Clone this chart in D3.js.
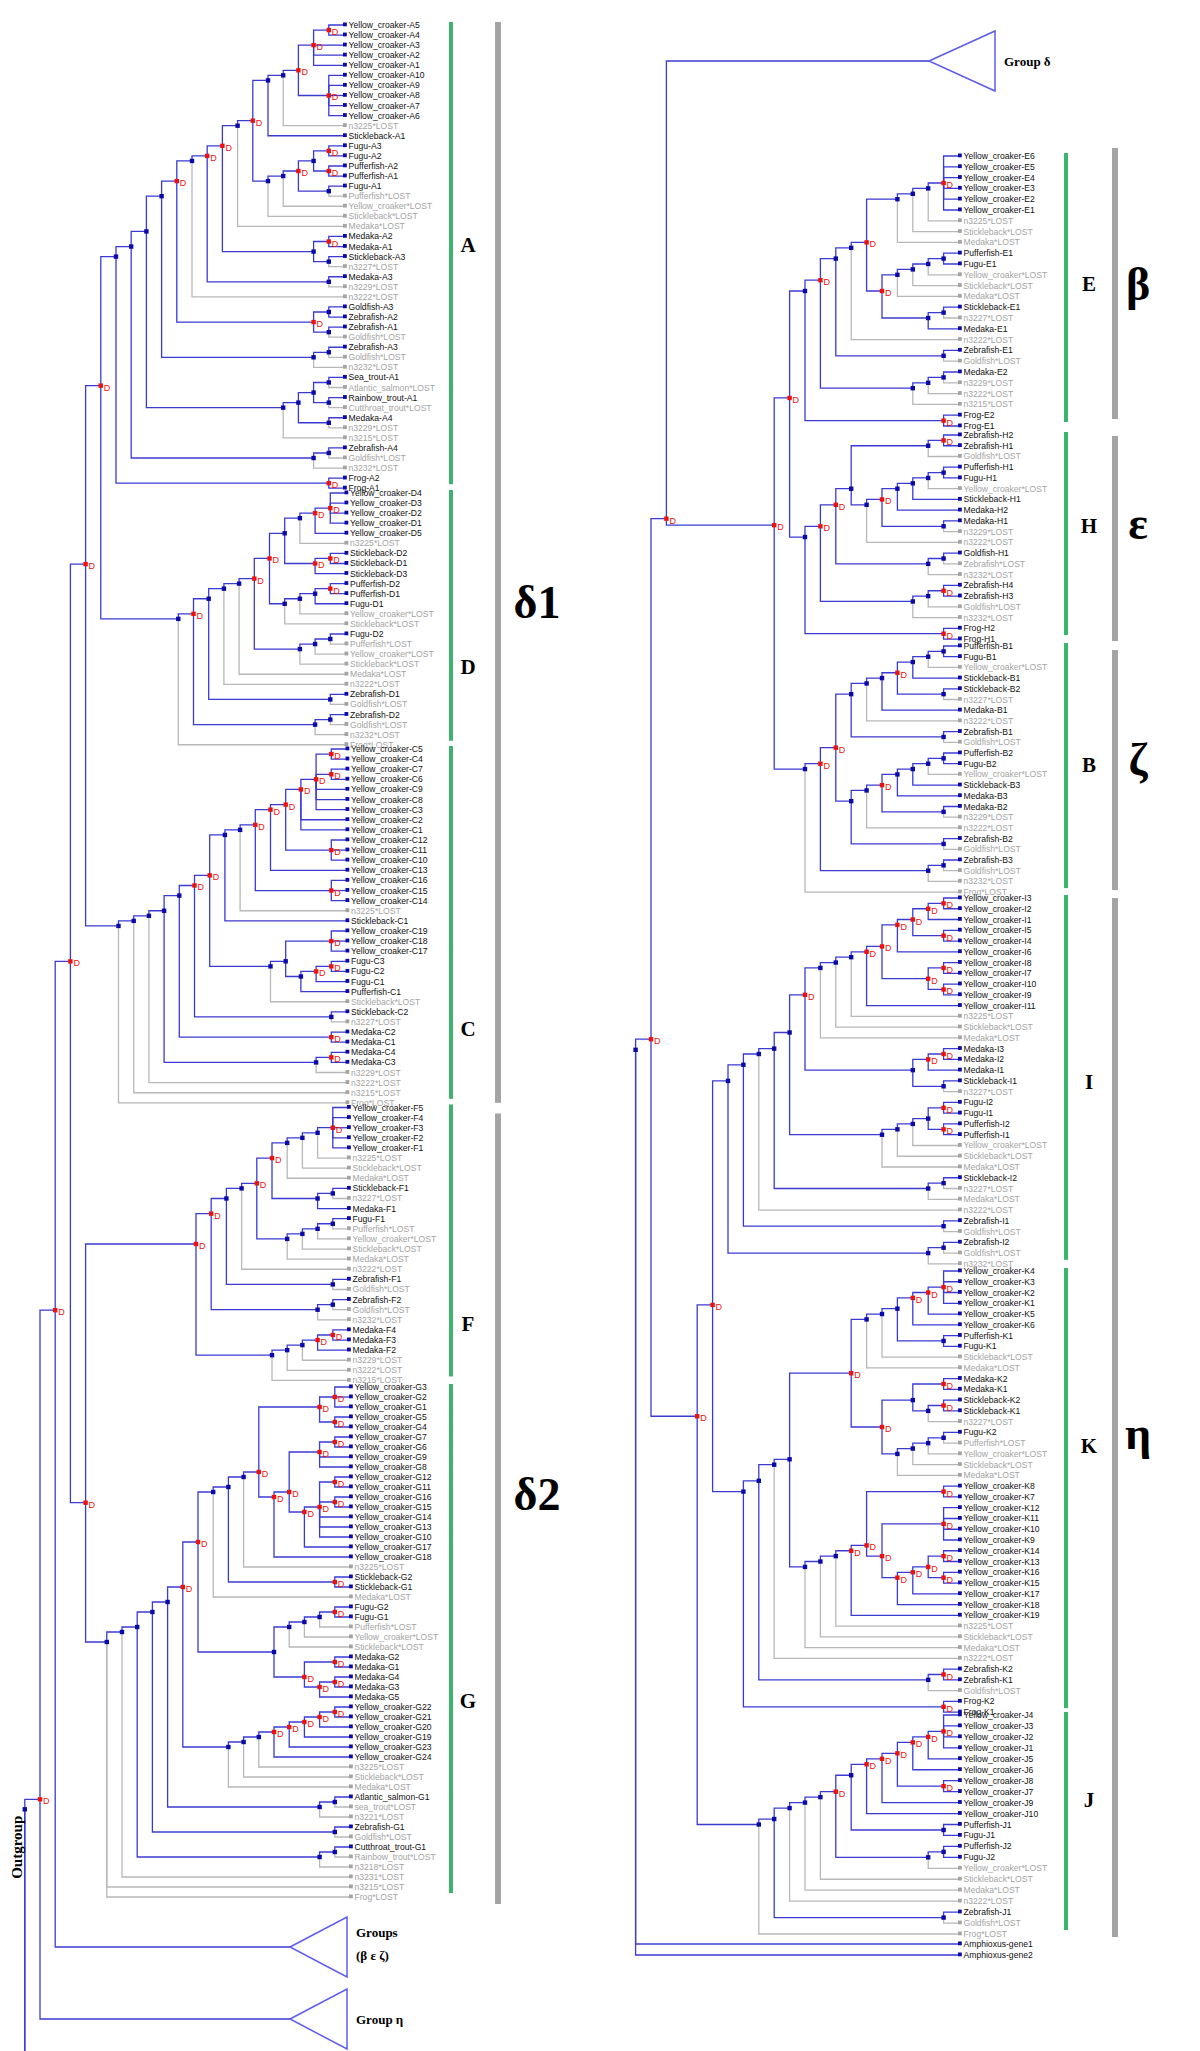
<!DOCTYPE html>
<html>
<head>
<meta charset="utf-8">
<script src="https://cdn.jsdelivr.net/npm/d3@7"></script>
<style>
body { margin: 0; background: #fff; }
</style>
</head>
<body>
<script>
// ---------- data: gene tree pieces in Newick ("D" = duplication node, "#id" = named group) ----------

// group delta, clade A
var A_yc = "(((((Yellow_croaker-A5,Yellow_croaker-A4)D,Yellow_croaker-A3,Yellow_croaker-A2,Yellow_croaker-A1)D,(Yellow_croaker-A10,Yellow_croaker-A9,Yellow_croaker-A8,Yellow_croaker-A7,Yellow_croaker-A6)D)D,n3225*LOST),Stickleback-A1)";
var A_fu = "(((((Fugu-A3,Fugu-A2)D,(Pufferfish-A2,Pufferfish-A1)D),(Fugu-A1,Pufferfish*LOST))D,Yellow_croaker*LOST),Stickleback*LOST)";
var A_up = "(((((" + A_yc + "," + A_fu + ")D,Medaka*LOST),((Medaka-A2,Medaka-A1)D,(Stickleback-A3,n3227*LOST)))D,(Medaka-A3,n3229*LOST))D,n3222*LOST)";
var A_gz = "((Goldfish-A3,Zebrafish-A2),(Zebrafish-A1,Goldfish*LOST))D";
var A_z3 = "((Zebrafish-A3,Goldfish*LOST),n3232*LOST)";
var A_sal = "((((Sea_trout-A1,Atlantic_salmon*LOST),(Rainbow_trout-A1,Cutthroat_trout*LOST)),(Medaka-A4,n3229*LOST)),n3215*LOST)";
var A_z4 = "((Zebrafish-A4,Goldfish*LOST),n3232*LOST)";
var A_fr = "(Frog-A2,Frog-A1)D";
var cladeA = "(((((" + A_up + "," + A_gz + ")D," + A_z3 + ")," + A_sal + ")," + A_z4 + ")," + A_fr + ")";

// clade D
var D_yc = "((((Yellow_croaker-D4,Yellow_croaker-D3,Yellow_croaker-D2,Yellow_croaker-D1)D,Yellow_croaker-D5)D,n3225*LOST),((Stickleback-D2,Stickleback-D1)D,Stickleback-D3)D)";
var D_pu = "((((Pufferfish-D2,Pufferfish-D1)D,Fugu-D1),Yellow_croaker*LOST),Stickleback*LOST)";
var D_fu = "(((Fugu-D2,Pufferfish*LOST),Yellow_croaker*LOST),Stickleback*LOST)";
var cladeD = "(((((((" + D_yc + "," + D_pu + ")D," + D_fu + ")D,Medaka*LOST),n3222*LOST),(Zebrafish-D1,Goldfish*LOST)),((Zebrafish-D2,Goldfish*LOST),n3232*LOST))D,Frog*LOST)";

// clade C
var C_n1 = "((Yellow_croaker-C5,Yellow_croaker-C4)D,(Yellow_croaker-C7,Yellow_croaker-C6)D,Yellow_croaker-C9,Yellow_croaker-C8,Yellow_croaker-C3)D";
var C_yc = "((((((" + C_n1 + ",Yellow_croaker-C2,Yellow_croaker-C1)D,(Yellow_croaker-C12,Yellow_croaker-C11,Yellow_croaker-C10)D)D,Yellow_croaker-C13)D,(Yellow_croaker-C16,Yellow_croaker-C15,Yellow_croaker-C14)D)D,n3225*LOST),Stickleback-C1)";
var C_fu = "(((Yellow_croaker-C19,Yellow_croaker-C18,Yellow_croaker-C17)D,(((Fugu-C3,Fugu-C2)D,Fugu-C1)D,Pufferfish-C1)),Stickleback*LOST)";
var cladeC = "(((((((" + C_yc + "," + C_fu + ")D,(Stickleback-C2,n3227*LOST))D,(Medaka-C2,Medaka-C1)D),((Medaka-C4,Medaka-C3)D,n3229*LOST)),n3222*LOST),n3215*LOST),Frog*LOST)";

// clade F
var F_yc = "((((Yellow_croaker-F5,Yellow_croaker-F4,Yellow_croaker-F3,Yellow_croaker-F2,Yellow_croaker-F1)D,n3225*LOST),Stickleback*LOST),Medaka*LOST)";
var F_st = "((Stickleback-F1,n3227*LOST),Medaka-F1)";
var F_fu = "((((Fugu-F1,Pufferfish*LOST),Yellow_croaker*LOST),Stickleback*LOST),Medaka*LOST)";
var F_me = "(((((Medaka-F4,Medaka-F3)D,Medaka-F2)D,n3229*LOST),n3222*LOST),n3215*LOST)";
var cladeF = "((((((" + F_yc + "," + F_st + ")D," + F_fu + ")D,n3222*LOST),(Zebrafish-F1,Goldfish*LOST)),((Zebrafish-F2,Goldfish*LOST),n3232*LOST))D," + F_me + ")D";

// clade G
var G_1 = "((Yellow_croaker-G3,Yellow_croaker-G2,Yellow_croaker-G1)D,(Yellow_croaker-G5,Yellow_croaker-G4)D)D";
var G_2 = "((Yellow_croaker-G7,Yellow_croaker-G6)D,Yellow_croaker-G9,Yellow_croaker-G8)D";
var G_3 = "(((Yellow_croaker-G12,Yellow_croaker-G11)D,(Yellow_croaker-G16,Yellow_croaker-G15)D,Yellow_croaker-G14,Yellow_croaker-G13,Yellow_croaker-G10)D,Yellow_croaker-G17)D";
var G_yc = "((((" + G_1 + ",((" + G_2 + "," + G_3 + ")D,Yellow_croaker-G18)D)D,n3225*LOST),(Stickleback-G2,Stickleback-G1)D),Medaka*LOST)";
var G_fu = "((((Fugu-G2,Fugu-G1)D,Pufferfish*LOST),Yellow_croaker*LOST),Stickleback*LOST)";
var G_me = "((Medaka-G2,Medaka-G1)D,((Medaka-G4,Medaka-G3)D,Medaka-G5)D)D";
var G_yc2 = "((((((((Yellow_croaker-G22,Yellow_croaker-G21)D,Yellow_croaker-G20)D,Yellow_croaker-G19)D,Yellow_croaker-G23)D,Yellow_croaker-G24)D,n3225*LOST),Stickleback*LOST),Medaka*LOST)";
var G_11 = "((" + G_yc + ",(" + G_fu + "," + G_me + "))D," + G_yc2 + ")D";
var G_sal = "((Atlantic_salmon-G1,sea_trout*LOST),n3221*LOST)";
var G_zeb = "(Zebrafish-G1,Goldfish*LOST)";
var G_cut = "(Cutthroat_trout-G1,Rainbow_trout*LOST)";
var cladeG = "(((((" + G_11 + "," + G_sal + ")," + G_zeb + "),(" + G_cut + ",n3218*LOST)),n3231*LOST),n3215*LOST,Frog*LOST)";

// clade E (beta)
var E_1 = "((((Yellow_croaker-E6,Yellow_croaker-E5,Yellow_croaker-E4,Yellow_croaker-E3,Yellow_croaker-E2,Yellow_croaker-E1)D,n3225*LOST),Stickleback*LOST),Medaka*LOST)";
var E_2 = "(((((Pufferfish-E1,Fugu-E1),Yellow_croaker*LOST),Stickleback*LOST),Medaka*LOST),((Stickleback-E1,n3227*LOST),Medaka-E1))D";
var cladeE = "(((((" + E_1 + "," + E_2 + ")D,n3222*LOST),(Zebrafish-E1,Goldfish*LOST)),(((Medaka-E2,n3229*LOST),n3222*LOST),n3215*LOST))D,(Frog-E2,Frog-E1)D)";

// clade H (epsilon)
var H_a = "((Zebrafish-H2,Zebrafish-H1)D,Goldfish*LOST)";
var H_b = "((((Pufferfish-H1,Fugu-H1),Yellow_croaker*LOST),Stickleback-H1),Medaka-H2)";
var cladeH = "((((" + H_a + ",((" + H_b + ",(Medaka-H1,n3229*LOST))D,n3222*LOST)),((Goldfish-H1,Zebrafish*LOST),n3232*LOST))D,(((Zebrafish-H4,Zebrafish-H3)D,Goldfish*LOST),n3232*LOST))D,(Frog-H2,Frog-H1)D)";

// clade B (zeta)
var B_a = "((((Pufferfish-B1,Fugu-B1),Yellow_croaker*LOST),Stickleback-B1),(Stickleback-B2,n3227*LOST))D";
var B_7a = "(((" + B_a + ",Medaka-B1),n3222*LOST),(Zebrafish-B1,Goldfish*LOST))";
var B_c = "(((((Pufferfish-B2,Fugu-B2),Yellow_croaker*LOST),Stickleback-B3),Medaka-B3),(Medaka-B2,n3229*LOST))D";
var B_7c = "((" + B_c + ",n3222*LOST),(Zebrafish-B2,Goldfish*LOST))";
var cladeB = "(((" + B_7a + "," + B_7c + ")D,((Zebrafish-B3,Goldfish*LOST),n3232*LOST))D,Frog*LOST)";

// clade I (eta)
var I_1 = "((((((Yellow_croaker-I3,Yellow_croaker-I2)D,Yellow_croaker-I1)D,(Yellow_croaker-I5,Yellow_croaker-I4)D)D,Yellow_croaker-I6)D,((Yellow_croaker-I8,Yellow_croaker-I7)D,(Yellow_croaker-I10,Yellow_croaker-I9)D)D)D,Yellow_croaker-I11)D";
var I_9 = "(((" + I_1 + ",n3225*LOST),Stickleback*LOST),Medaka*LOST)";
var I_me = "(((Medaka-I3,Medaka-I2)D,Medaka-I1)D,(Stickleback-I1,n3227*LOST))";
var I_fu = "(((((Fugu-I2,Fugu-I1)D,(Pufferfish-I2,Pufferfish-I1)D),Yellow_croaker*LOST),Stickleback*LOST),Medaka*LOST)";
var I_st = "((Stickleback-I2,n3227*LOST),Medaka*LOST)";
var cladeI = "((((((" + I_9 + "," + I_me + ")D," + I_fu + ")," + I_st + "),n3222*LOST),(Zebrafish-I1,Goldfish*LOST)),((Zebrafish-I2,Goldfish*LOST),n3232*LOST))";

// clade K (eta)
var K_1 = "((((((Yellow_croaker-K4,Yellow_croaker-K3,Yellow_croaker-K2,Yellow_croaker-K1)D,Yellow_croaker-K5)D,Yellow_croaker-K6)D,(Pufferfish-K1,Fugu-K1)),Stickleback*LOST),Medaka*LOST)";
var K_2 = "(((Medaka-K2,Medaka-K1)D,((Stickleback-K2,Stickleback-K1)D,n3227*LOST)),((((Fugu-K2,Pufferfish*LOST),Yellow_croaker*LOST),Stickleback*LOST),Medaka*LOST))D";
var K_h4 = "((((Yellow_croaker-K14,Yellow_croaker-K13)D,(Yellow_croaker-K16,Yellow_croaker-K15)D)D,Yellow_croaker-K17)D,Yellow_croaker-K18)D";
var K_h6 = "((Yellow_croaker-K8,Yellow_croaker-K7)D,((Yellow_croaker-K12,Yellow_croaker-K11,Yellow_croaker-K10,Yellow_croaker-K9)D," + K_h4 + ")D)D";
var K_y = "((((" + K_h6 + ",Yellow_croaker-K19)D,n3225*LOST),Stickleback*LOST),Medaka*LOST)";
var cladeK = "(((((" + K_1 + "," + K_2 + ")D," + K_y + "),n3222*LOST),((Zebrafish-K2,Zebrafish-K1)D,Goldfish*LOST)),(Frog-K2,Frog-K1)D)";

// clade J (eta)
var J_1 = "((((((((((Yellow_croaker-J4,Yellow_croaker-J3,Yellow_croaker-J2,Yellow_croaker-J1)D,Yellow_croaker-J5)D,Yellow_croaker-J6)D,(Yellow_croaker-J8,Yellow_croaker-J7)D)D,Yellow_croaker-J9)D,Yellow_croaker-J10)D,(Pufferfish-J1,Fugu-J1)),((Pufferfish-J2,Fugu-J2),Yellow_croaker*LOST))D,Stickleback*LOST),Medaka*LOST)";
var cladeJ = "(((" + J_1 + ",n3222*LOST),(Zebrafish-J1,Goldfish*LOST)),Frog*LOST)";

var pieces = { A: cladeA, D: cladeD, C: cladeC, F: cladeF, G: cladeG, E: cladeE, H: cladeH, B: cladeB,
               I: cladeI, K: cladeK, J: cladeJ, O1: "Amphioxus-gene1", O2: "Amphioxus-gene2" };

// the whole gene tree: ((delta, beta-epsilon-zeta), eta) rooted with the amphioxus genes
var fullTree = "((((((@A,@D)D,@C)D,(@F,@G)D)D#delta,((@E,@H)D,@B)D#bez)D,((@I,@K)D,@J)D#eta)D,@O1,@O2)";

var triNames = { delta: ["Group δ"], bez: ["Groups", "(β ε ζ)"], eta: ["Group η"] };
var leftClades = ["A", "D", "C", "F", "G"];
var rightClades = ["E", "H", "B", "I", "K", "J"];
var leftGroups = ["δ1", "δ2"];
var rightGroups = ["β", "ε", "ζ", "η"];

// ---------- layout ----------
var W = 1200, H = 2051;
// left panel: beta/eps/zeta and eta collapsed, their leaves keep virtual slots below the picture
var leftL = {
  leafX: 344, step: 15.2, triX: 290, triW: 57, vstep: 10,
  collapse: { bez: "virtual", eta: "virtual" }, triY: { bez: 1947, eta: 2019 },
  clades: { A: [25, 10.07, 0], D: [493, 10.07, 1.5], C: [749, 10.11, 2.5], F: [1107.5, 10.11, 4], G: [1387, 10.0, 6] }
};
// right panel: delta collapsed into a single tip
var rightL = {
  leafX: 959, step: 15.4, triX: 929, triW: 66, vstep: 10,
  collapse: { delta: "single" }, triY: { delta: 61 },
  clades: { E: [156, 10.8, 0], H: [435, 10.74, 0], B: [646, 10.7, 0], I: [898, 10.76, 0],
            K: [1271, 10.76, 0], J: [1715, 10.95, 0], O1: [1944, 0, 0], O2: [1955, 0, 0] }
};

var BLUE = "#3b3bd4", NODE = "#0a0aa8", RED = "#f01010", GRAYL = "#b8b8b8", GRAYT = "#a4a4a4";
var serif = "'Liberation Serif', 'Times New Roman', serif";

function parseNewick(s, refs) {
  var i = 0;
  function node() {
    var n = {};
    if (s[i] === "(") {
      i++;
      n.children = [];
      while (true) {
        n.children.push(node());
        if (s[i] === ",") { i++; continue; }
        i++; break;
      }
    }
    var j = i;
    while (i < s.length && ",()".indexOf(s[i]) < 0) i++;
    var label = s.slice(j, i);
    if (n.children) {
      var p = label.split("#");
      n.dup = p[0] === "D";
      if (p[1]) n.id = p[1];
    } else if (label[0] === "@") return refs[label.slice(1)];
    else n.name = label;
    return n;
  }
  return node();
}

function tag(n, key) {
  if (n.children) n.children.forEach(function(c) { tag(c, key); });
  else n.clade = key;
  return n;
}

function prepare(L) {
  var refs = {};
  for (var k in pieces) refs[k] = tag(parseNewick(pieces[k]), k);
  function collapse(n) {
    if (!n.children) return n;
    if (n.id && L.collapse[n.id]) {
      var h = d3.hierarchy(n);
      return { triangle: true, id: n.id, h: h.height, n: h.leaves().length, lines: triNames[n.id] };
    }
    n.children = n.children.map(collapse);
    return n;
  }
  var root = d3.hierarchy(collapse(parseNewick(fullTree, refs)));

  var count = {}, cursor = null, last = 0;
  root.leaves().forEach(function(lf) {
    var d = lf.data;
    if (d.triangle) {
      lf.y = L.triY[d.id];
      if (L.collapse[d.id] === "virtual") {
        if (cursor === null) cursor = last + L.vstep;
        lf.w = d.n; lf.s = d.n * cursor + L.vstep * d.n * (d.n - 1) / 2;
        cursor += d.n * L.vstep;
      } else { lf.w = 1; lf.s = lf.y; }
    } else if (L.clades[d.clade]) {
      var c = L.clades[d.clade];
      var idx = count[d.clade] = (count[d.clade] === undefined ? 0 : count[d.clade] + 1);
      lf.y = c[0] + idx * c[1];
      last = Math.max(last, lf.y);
      lf.w = 1; lf.s = lf.y;
    } else {
      if (cursor === null) cursor = last + L.vstep;
      lf.y = cursor; cursor += L.vstep;
      lf.virtual = true; lf.w = 1; lf.s = lf.y;
    }
  });
  root.eachAfter(function(n) {
    if (n.children) {
      n.w = d3.sum(n.children, function(c) { return c.w; });
      n.s = d3.sum(n.children, function(c) { return c.s; });
      n.y = n.s / n.w;
      n.h = 1 + d3.max(n.children, function(c) { return c.h; });
      n.lost = n.children.every(function(c) { return c.lost; });
      var k0 = n.children[0].ck;
      n.ck = n.children.every(function(c) { return c.ck === k0; }) ? k0 : null;
    } else {
      n.h = n.data.h || 0;
      n.lost = !!(n.data.name && n.data.name.indexOf("*LOST") >= 0);
      n.ck = n.data.clade || n.data.id;
    }
    var dx = n.ck && L.clades[n.ck] ? L.clades[n.ck][2] : 0;
    n.x = n.data.triangle ? L.triX : L.leafX + dx - n.h * L.step;
  });
  return root;
}

var svg = d3.select("body").append("svg").attr("width", W).attr("height", H)
  .style("font-family", "'Liberation Sans', Arial, sans-serif");

function draw(root, L) {
  var g = svg.append("g");
  var links = root.links().sort(function(a, b) { return b.target.lost - a.target.lost; });
  g.selectAll("path.link").data(links).enter().append("path")
    .attr("fill", "none")
    .attr("stroke", function(d) { return d.target.lost ? GRAYL : BLUE; })
    .attr("stroke-width", 1.3)
    .attr("d", function(d) { return "M" + d.source.x + "," + d.source.y + "V" + d.target.y + "H" + d.target.x; });

  // internal nodes
  var inner = root.descendants().filter(function(d) { return d.children; });
  g.selectAll("rect.node").data(inner).enter().append("rect")
    .attr("x", function(d) { return d.x - 2.2; }).attr("y", function(d) { return d.y - 2.2; })
    .attr("width", 4.4).attr("height", 4.4)
    .attr("fill", function(d) { return d.data.dup ? RED : NODE; });
  g.selectAll("text.dup").data(inner.filter(function(d) { return d.data.dup; })).enter().append("text")
    .attr("x", function(d) { return d.x + 3; }).attr("y", function(d) { return d.y + 5; })
    .attr("fill", RED).style("font-size", "9px").text("D");

  // tips
  var leaves = root.leaves().filter(function(d) { return !d.data.triangle && !d.virtual; });
  g.selectAll("rect.leaf").data(leaves).enter().append("rect")
    .attr("x", function(d) { return d.x - 1; }).attr("y", function(d) { return d.y - 2.5; })
    .attr("width", 3.8).attr("height", 3.8)
    .attr("fill", function(d) { return d.lost ? GRAYT : NODE; });
  g.selectAll("text.leaf").data(leaves).enter().append("text")
    .attr("x", function(d) { return d.x + 4.5; }).attr("y", function(d) { return d.y + 3; })
    .attr("fill", function(d) { return d.lost ? GRAYT : "#111"; })
    .style("font-size", "8.6px")
    .text(function(d) { return d.data.name; });

  // collapsed groups
  root.leaves().filter(function(d) { return d.data.triangle; }).forEach(function(d) {
    var w = L.triW, h = 30;
    g.append("path").attr("fill", "none").attr("stroke", "#5c5cf0").attr("stroke-width", 1.5)
      .attr("d", "M" + d.x + "," + d.y + "L" + (d.x + w) + "," + (d.y - h) + "V" + (d.y + h) + "Z");
    var t = g.append("text").attr("y", d.y + (d.data.lines.length > 1 ? -10 : 5))
      .style("font-family", serif).style("font-weight", "bold").style("font-size", "13px");
    d.data.lines.forEach(function(s, i) {
      t.append("tspan").attr("x", d.x + w + 9).attr("dy", i ? 23 : 0).text(s);
    });
  });
  return g;
}

var leftRoot = prepare(leftL);
draw(leftRoot, leftL);
var rightRoot = prepare(rightL);
draw(rightRoot, rightL);

// outgroup label beside the root stem of the left panel
svg.append("text").attr("transform", "translate(" + (leftRoot.x - 3) + "," + (leftRoot.y + 38) + ") rotate(-90)")
  .attr("text-anchor", "middle")
  .style("font-family", serif).style("font-weight", "bold").style("font-size", "15px")
  .text("Outgroup");

// ---------- clade bars and labels ----------
function leafRange(root, k) {
  var ys = root.leaves().filter(function(d) { return d.data.clade === k; }).map(function(d) { return d.y; });
  return [d3.min(ys), d3.max(ys)];
}

function bars(root, keys, x, labelX, labelY) {
  keys.forEach(function(k, i) {
    var r = leafRange(root, k);
    svg.append("rect").attr("x", x).attr("y", r[0] - 3).attr("width", 4).attr("height", r[1] - r[0] - 1)
      .attr("fill", "#3cb46e");
    svg.append("text").attr("x", labelX).attr("y", labelY[i]).attr("text-anchor", "middle")
      .attr("dominant-baseline", "central")
      .style("font-family", serif).style("font-weight", "bold").style("font-size", "21px").text(k);
  });
}
bars(leftRoot, leftClades, 449, 468, [245, 667, 1029, 1324, 1701]);
bars(rightRoot, rightClades, 1064, 1089, [284, 526, 765, 1082, 1446, 1800]);

function groupBar(x, y0, y1, text, tx, ty) {
  svg.append("rect").attr("x", x).attr("y", y0).attr("width", 6).attr("height", y1 - y0).attr("fill", "#a4a4a4");
  svg.append("text").attr("x", tx).attr("y", ty).attr("text-anchor", "middle").attr("dominant-baseline", "central")
    .style("font-family", serif).style("font-weight", "bold").style("font-size", "46px").text(text);
}
var lr = function(k) { return leafRange(leftRoot, k); };
var rr = function(k) { return leafRange(rightRoot, k); };
groupBar(495, lr("A")[0] - 3, lr("C")[1], leftGroups[0], 537, 602);
groupBar(495, lr("F")[0] + 6, lr("G")[1] + 7, leftGroups[1], 537, 1494);
groupBar(1112, rr("E")[0] - 8, rr("E")[1] - 7, rightGroups[0], 1138, 284);
groupBar(1112, rr("H")[0] + 1, rr("H")[1] + 2, rightGroups[1], 1138, 523);
groupBar(1112, rr("B")[0] + 4, rr("B")[1] - 2, rightGroups[2], 1138, 759);
groupBar(1112, rr("I")[0], rr("J")[1] + 3, rightGroups[3], 1138, 1433);
</script>
</body>
</html>
